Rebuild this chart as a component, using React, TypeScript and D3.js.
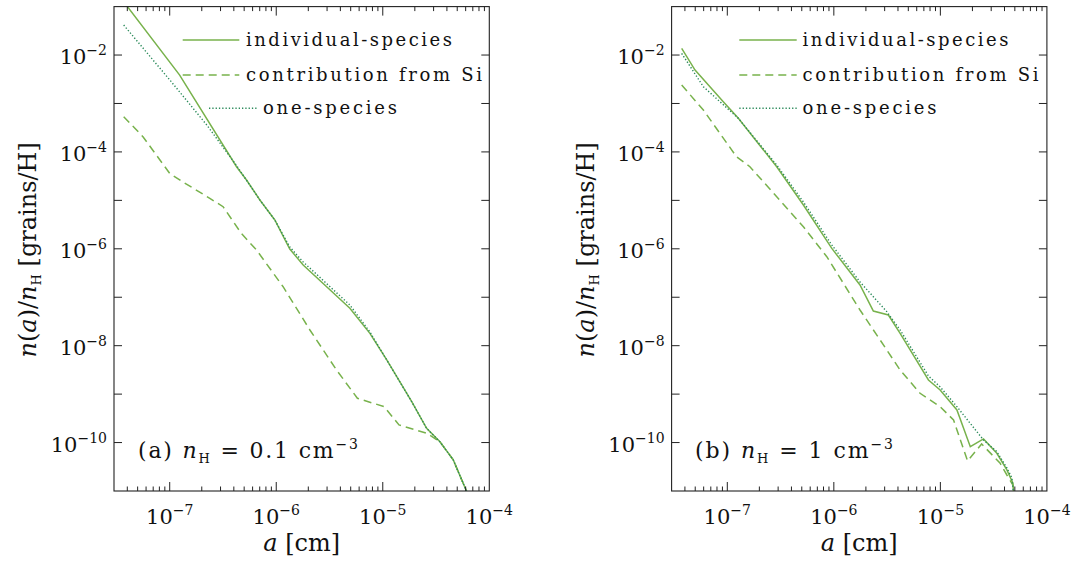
import React from 'react';
import * as d3 from 'd3';

// ---- data (grain radius a [cm], n(a)/nH [grains/H]) ----
const panelA_individual: [number, number][] = [
  [3.70e-8, 1.26e-1], [1.24e-7, 3.86e-3], [4.24e-7, 4.95e-5], [5.26e-7, 2.63e-5],
  [7.02e-7, 1.02e-5], [9.70e-7, 3.93e-6], [1.34e-6, 9.9e-7], [1.79e-6, 4.63e-7],
  [4.91e-6, 5.91e-8], [7.57e-6, 1.80e-8], [1.09e-5, 5.07e-9], [1.87e-5, 6.98e-10],
  [2.58e-5, 1.97e-10], [3.44e-5, 1.04e-10], [4.59e-5, 4.38e-11], [6.14e-5, 9.7e-12],
  [7.0e-5, 3.0e-12],
];
const panelA_si: [number, number][] = [
  [3.70e-8, 5.33e-4], [5.61e-8, 2.06e-4], [1.0e-7, 3.6e-5], [1.33e-7, 2.4e-5],
  [2.38e-7, 1.10e-5], [3.17e-7, 7.40e-6], [4.69e-7, 2.09e-6], [6.53e-7, 9.44e-7],
  [1.16e-6, 1.65e-7], [2.07e-6, 2.11e-8], [3.68e-6, 3.15e-9], [5.78e-6, 8.20e-10],
  [1.03e-5, 5.51e-10], [1.42e-5, 2.31e-10], [2.58e-5, 1.56e-10], [3.44e-5, 1.04e-10],
  [4.59e-5, 4.38e-11], [6.14e-5, 9.7e-12], [7.0e-5, 3.0e-12],
];
const panelA_one: [number, number][] = [
  [3.70e-8, 4.16e-2], [1.04e-7, 2.77e-3], [2.23e-7, 3.59e-4], [4.27e-7, 5.12e-5],
  [7.02e-7, 1.02e-5], [9.70e-7, 3.93e-6], [1.34e-6, 1.09e-6], [1.79e-6, 5.35e-7],
  [4.91e-6, 6.92e-8], [7.57e-6, 1.92e-8], [1.09e-5, 5.07e-9], [1.87e-5, 6.98e-10],
  [2.58e-5, 1.97e-10], [3.44e-5, 1.04e-10], [4.59e-5, 4.38e-11], [6.14e-5, 9.7e-12],
  [7.0e-5, 3.0e-12],
];

const panelB_individual: [number, number][] = [
  [3.73e-8, 1.37e-2], [4.98e-8, 4.90e-3], [9.17e-8, 1.09e-3], [1.27e-7, 4.93e-4],
  [2.91e-7, 4.95e-5], [5.18e-7, 8.02e-6], [9.57e-7, 1.02e-6], [1.76e-6, 1.79e-7],
  [2.35e-6, 5.20e-8], [3.25e-6, 4.30e-8], [4.19e-6, 1.80e-8], [7.73e-6, 1.96e-9],
  [9.95e-6, 1.22e-9], [1.43e-5, 4.71e-10], [1.91e-5, 8.22e-11], [2.54e-5, 1.19e-10],
  [3.39e-5, 6.01e-11], [4.21e-5, 2.72e-11], [4.80e-5, 1.45e-11], [4.88e-5, 8.3e-12],
];
const panelB_si: [number, number][] = [
  [3.73e-8, 2.40e-3], [5.96e-8, 7.33e-4], [1.22e-7, 7.96e-5], [1.63e-7, 4.95e-5],
  [5.18e-7, 2.86e-6], [8.59e-7, 6.87e-7], [1.76e-6, 5.46e-8], [2.72e-6, 1.31e-8],
  [4.19e-6, 3.15e-9], [6.45e-6, 1.04e-9], [9.95e-6, 5.51e-10], [1.33e-5, 2.92e-10],
  [1.80e-5, 4.17e-11], [2.44e-5, 9.36e-11], [3.64e-5, 3.74e-11], [4.21e-5, 2.14e-11],
  [4.80e-5, 1.33e-11], [4.88e-5, 8.3e-12],
];
const panelB_one: [number, number][] = [
  [3.73e-8, 1.08e-2], [5.96e-8, 2.22e-3], [1.27e-7, 4.93e-4], [2.91e-7, 5.37e-5],
  [5.18e-7, 9.25e-6], [9.57e-7, 1.20e-6], [1.76e-6, 2.07e-7], [3.14e-6, 5.04e-8],
  [4.19e-6, 2.11e-8], [7.73e-6, 2.37e-9], [9.95e-6, 1.41e-9], [1.43e-5, 5.51e-10],
  [2.54e-5, 1.13e-10], [3.39e-5, 6.49e-11], [4.21e-5, 2.99e-11], [4.69e-5, 1.86e-11],
  [4.88e-5, 8.3e-12],
];

const xDomain: [number, number] = [3e-8, 1e-4];
const yDomain: [number, number] = [1e-11, 1e-1];
const xTickValues = [1e-7, 1e-6, 1e-5, 1e-4];
const xTickExps = ['−7', '−6', '−5', '−4'];
const yTickValues = [1e-2, 1e-4, 1e-6, 1e-8, 1e-10];
const yTickExps = ['−2', '−4', '−6', '−8', '−10'];
const seriesLabels = ['individual-species', 'contribution from Si', 'one-species'];
const panelLabels = [
  { tag: '(a) ', value: ' = 0.1 cm' },
  { tag: '(b) ', value: ' = 1 cm' },
];

const FONT = 'DejaVu Serif';
const GREEN = '#78b24c';
const DKGREEN = '#2a8a5a';
const PW = 375.3;
const PH = 484.4;
const TOP = 6.6;

type PanelProps = {
  left: number;
  idx: number;
  individual: [number, number][];
  si: [number, number][];
  one: [number, number][];
  legend: { x1: number; x2: number; tx: number }[];
  labelX: number;
  labelLen: number;
};

const legendRowsY = [40, 75, 108.3];
const legendTextLen = [206, 236, 134];

function Panel(p: PanelProps) {
  const x = d3.scaleLog().domain(xDomain).range([p.left, p.left + PW]);
  const y = d3.scaleLog().domain(yDomain).range([TOP + PH, TOP]);
  const line = d3
    .line<[number, number]>()
    .x((d) => x(d[0]))
    .y((d) => y(d[1]));
  const clipId = `clip${p.idx}`;

  const minor: { v: number; major: boolean }[] = [];
  for (let e = -8; e <= -5; e++) {
    for (let k = 1; k <= 9; k++) {
      const v = k * Math.pow(10, e);
      if (v > xDomain[0] * 1.001 && v < xDomain[1] * 0.999) minor.push({ v, major: k === 1 });
    }
  }
  const yDecades: number[] = [];
  for (let e = -10; e <= -2; e++) yDecades.push(Math.pow(10, e));

  const bottom = TOP + PH;
  const right = p.left + PW;
  const seriesStyles = [
    { stroke: GREEN, dash: undefined, w: 1.5 },
    { stroke: GREEN, dash: '8,5', w: 1.5 },
    { stroke: DKGREEN, dash: '1.3,2', w: 1.4 },
  ];
  const seriesData = [p.individual, p.si, p.one];

  return (
    <g>
      <defs>
        <clipPath id={clipId}>
          <rect x={p.left} y={TOP} width={PW} height={PH} />
        </clipPath>
      </defs>
      <g clipPath={`url(#${clipId})`}>
        {seriesData.map((d, i) => (
          <path
            key={i}
            d={line(d) || ''}
            fill="none"
            stroke={seriesStyles[i].stroke}
            strokeWidth={seriesStyles[i].w}
            strokeDasharray={seriesStyles[i].dash}
          />
        ))}
      </g>
      {/* frame */}
      <rect x={p.left} y={TOP} width={PW} height={PH} fill="none" stroke="#222" strokeWidth={1.1} />
      {/* x ticks */}
      {minor.map((t, i) => {
        const len = t.major ? 9 : 4.5;
        const xx = x(t.v);
        return (
          <g key={i} stroke="#222" strokeWidth={1}>
            <line x1={xx} x2={xx} y1={bottom} y2={bottom - len} />
            <line x1={xx} x2={xx} y1={TOP} y2={TOP + len} />
          </g>
        );
      })}
      {/* y ticks */}
      {yDecades.map((v, i) => {
        const yy = y(v);
        const len = 8;
        return (
          <g key={i} stroke="#222" strokeWidth={1}>
            <line x1={p.left} x2={p.left + len} y1={yy} y2={yy} />
            <line x1={right} x2={right - len} y1={yy} y2={yy} />
          </g>
        );
      })}
      {/* x tick labels */}
      {xTickValues.map((v, i) => (
        <text
          key={i}
          x={x(v)}
          y={524}
          textAnchor="middle"
          fontFamily={FONT}
          fontSize={21}
          fill="#111"
        >
          10
          <tspan fontSize={14} dy={-9}>
            {xTickExps[i]}
          </tspan>
        </text>
      ))}
      {/* y tick labels */}
      {yTickValues.map((v, i) => (
        <text
          key={i}
          x={p.left - 7}
          y={y(v) + 9}
          textAnchor="end"
          fontFamily={FONT}
          fontSize={21}
          fill="#111"
        >
          10
          <tspan fontSize={14} dy={-9}>
            {yTickExps[i]}
          </tspan>
        </text>
      ))}
      {/* axis titles */}
      <text
        x={p.left + PW / 2}
        y={551}
        textAnchor="middle"
        fontFamily={FONT}
        fontSize={24}
        fill="#111"
      >
        <tspan fontStyle="italic">a</tspan> [cm]
      </text>
      <text
        transform={`translate(${p.left - 78},${TOP + PH / 2 + 1}) rotate(-90)`}
        textAnchor="middle"
        fontFamily={FONT}
        fontSize={24}
        fill="#111"
      >
        <tspan fontStyle="italic">n</tspan>(<tspan fontStyle="italic">a</tspan>)/
        <tspan fontStyle="italic">n</tspan>
        <tspan fontSize={13} dy={5}>H</tspan>
        <tspan dy={-5}> [grains/H]</tspan>
      </text>
      {/* legend */}
      {p.legend.map((l, i) => (
        <g key={i}>
          <line
            x1={l.x1}
            x2={l.x2}
            y1={legendRowsY[i]}
            y2={legendRowsY[i]}
            stroke={seriesStyles[i].stroke}
            strokeWidth={seriesStyles[i].w}
            strokeDasharray={seriesStyles[i].dash}
          />
          <text
            x={l.tx}
            y={legendRowsY[i] + 5.5}
            fontFamily={FONT}
            fontSize={18}
            fill="#111"
            textLength={legendTextLen[i]}
            lengthAdjust="spacing"
          >
            {seriesLabels[i]}
          </text>
        </g>
      ))}
      {/* panel label */}
      <text
        x={p.labelX}
        y={458}
        fontFamily={FONT}
        fontSize={22}
        fill="#111"
        textLength={p.labelLen}
        lengthAdjust="spacing"
      >
        {panelLabels[p.idx].tag}
        <tspan fontStyle="italic">n</tspan>
        <tspan fontSize={13} dy={5}>H</tspan>
        <tspan dy={-5}>{panelLabels[p.idx].value}</tspan>
        <tspan fontSize={14} dy={-9}>−3</tspan>
      </text>
    </g>
  );
}

export default function App() {
  return (
    <svg
      width={1075}
      height={562}
      style={{ position: 'absolute', left: 0, top: 0, background: '#fff' }}
    >
      <rect width={1075} height={562} fill="#fff" />
      <Panel
        left={114}
        idx={0}
        individual={panelA_individual}
        si={panelA_si}
        one={panelA_one}
        legend={[
          { x1: 182.7, x2: 239.3, tx: 246 },
          { x1: 182.7, x2: 239.3, tx: 246 },
          { x1: 209, x2: 256.7, tx: 263 },
        ]}
        labelX={138}
        labelLen={220}
      />
      <Panel
        left={671.6}
        idx={1}
        individual={panelB_individual}
        si={panelB_si}
        one={panelB_one}
        legend={[
          { x1: 739.3, x2: 796.7, tx: 802.5 },
          { x1: 739.3, x2: 796.7, tx: 802.5 },
          { x1: 739.3, x2: 796.7, tx: 802.5 },
        ]}
        labelX={695}
        labelLen={198}
      />
    </svg>
  );
}
